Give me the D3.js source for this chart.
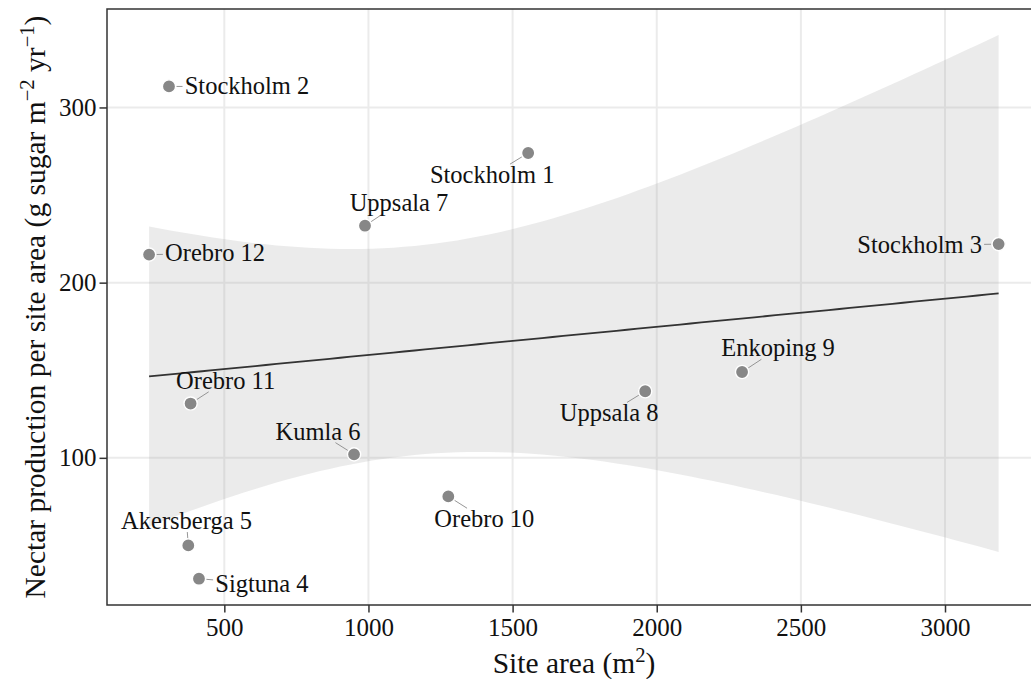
<!DOCTYPE html>
<html>
<head>
<meta charset="utf-8">
<script src="https://cdn.jsdelivr.net/npm/d3@7"></script>
<style>
  html, body { margin: 0; padding: 0; background: #fff; }
  svg { display: block; }
  text { font-family: "Liberation Serif", "DejaVu Serif", serif; fill: #111; }
</style>
</head>
<body>
<svg id="chart" width="1031" height="679"></svg>
<script>
// ---- data ----
const sites = ["Stockholm 1","Stockholm 2","Stockholm 3","Sigtuna 4","Akersberga 5","Kumla 6",
               "Uppsala 7","Uppsala 8","Enkoping 9","Orebro 10","Orebro 11","Orebro 12"];
const siteArea = [1554, 308, 3186, 412, 375, 950, 988, 1960, 2296, 1277, 383, 239];
const nectar   = [274, 312, 222, 31, 50, 102, 232.5, 138, 149, 78, 131, 216];
const xTicks = [500, 1000, 1500, 2000, 2500, 3000];
const yTicks = [100, 200, 300];
const tCrit = 2.228; // qt(0.975, df = 10)

// label layout (pixel offsets from point to label centre / baseline), as placed by the repel
const labelOffsets = {
  "Stockholm 1": [-36, 30], "Stockholm 2": [78, 8], "Stockholm 3": [-79, 9.3],
  "Sigtuna 4": [63, 13], "Akersberga 5": [-1.8, -16.4], "Kumla 6": [-36, -14.7],
  "Uppsala 7": [34, -14.7], "Uppsala 8": [-36, 30], "Enkoping 9": [36, -15.7],
  "Orebro 10": [36, 30.7], "Orebro 11": [35, -14.7], "Orebro 12": [66, 6.7]
};

const data = sites.map((s, i) => ({ site: s, x: siteArea[i], y: nectar[i] }));

// ---- layout ----
const W = 1031, H = 679;
const panel = { left: 107, top: 9, right: 1041, bottom: 605 };
const svg = d3.select("#chart");

const x = d3.scaleLinear().domain([93, 3333]).range([panel.left, panel.right]);
const y = d3.scaleLinear().domain([16, 356.2]).range([panel.bottom, panel.top]);

// ---- linear model + 95% CI (as geom_smooth(method = "lm")) ----
const n = data.length;
const mx = d3.mean(data, d => d.x), my = d3.mean(data, d => d.y);
const sxx = d3.sum(data, d => (d.x - mx) ** 2);
const sxy = d3.sum(data, d => (d.x - mx) * (d.y - my));
const b1 = sxy / sxx, b0 = my - b1 * mx;
const sse = d3.sum(data, d => (d.y - (b0 + b1 * d.x)) ** 2);
const sRes = Math.sqrt(sse / (n - 2));
const [xmin, xmax] = d3.extent(data, d => d.x);
const fitX = d3.range(0, 81).map(k => xmin + (xmax - xmin) * k / 80);
const fit = fitX.map(v => {
  const yh = b0 + b1 * v;
  const se = sRes * Math.sqrt(1 / n + (v - mx) ** 2 / sxx);
  return { x: v, y: yh, lo: yh - tCrit * se, hi: yh + tCrit * se };
});

// ---- panel background & grid ----
const g = svg.append("g");
g.append("rect").attr("x", panel.left).attr("y", panel.top)
  .attr("width", panel.right - panel.left).attr("height", panel.bottom - panel.top)
  .attr("fill", "#fff");

g.append("g").selectAll("line").data(xTicks).join("line")
  .attr("x1", d => x(d)).attr("x2", d => x(d))
  .attr("y1", panel.top).attr("y2", panel.bottom)
  .attr("stroke", "#ebebeb").attr("stroke-width", 2);
g.append("g").selectAll("line").data(yTicks).join("line")
  .attr("y1", d => y(d)).attr("y2", d => y(d))
  .attr("x1", panel.left).attr("x2", panel.right)
  .attr("stroke", "#ebebeb").attr("stroke-width", 2);

// ---- ribbon & fit line ----
g.append("path").datum(fit)
  .attr("d", d3.area().x(d => x(d.x)).y0(d => y(d.lo)).y1(d => y(d.hi)))
  .attr("fill", "#999999").attr("fill-opacity", 0.2);
g.append("path").datum(fit)
  .attr("d", d3.line().x(d => x(d.x)).y(d => y(d.y)))
  .attr("fill", "none").attr("stroke", "#333").attr("stroke-width", 1.8);

// ---- labels (text first measured, segments drawn beneath) ----
const labelFs = 24.5;
const rPt = 6.6;
const segG = g.append("g");
const ptG = g.append("g");
const txtG = g.append("g");

data.forEach(d => {
  const px = x(d.x), py = y(d.y);
  const [dx, dy] = labelOffsets[d.site];
  const t = txtG.append("text")
    .attr("x", px + dx).attr("y", py + dy)
    .attr("text-anchor", "middle")
    .attr("font-size", labelFs)
    .text(d.site);
  const bb = t.node().getBBox();
  const pad = 2.2;
  const bx0 = bb.x - pad, bx1 = bb.x + bb.width + pad;
  const by0 = py + dy - 0.68 * labelFs - pad, by1 = py + dy + 3;
  const cx = (bx0 + bx1) / 2, cy = (by0 + by1) / 2;
  const ddx = cx - px, ddy = cy - py;
  let t0 = 0, t1 = 1;
  const p = [-ddx, ddx, -ddy, ddy], q = [px - bx0, bx1 - px, py - by0, by1 - py];
  for (let k = 0; k < 4; k++) {
    if (p[k] === 0) continue;
    const r = q[k] / p[k];
    if (p[k] < 0) t0 = Math.max(t0, r); else t1 = Math.min(t1, r);
  }
  const len = Math.hypot(ddx, ddy);
  const tStart = (rPt + 0.8) / len;
  if (t0 > tStart) {
    segG.append("line")
      .attr("x1", px + ddx * tStart).attr("y1", py + ddy * tStart)
      .attr("x2", px + ddx * t0).attr("y2", py + ddy * t0)
      .attr("stroke", "#8a8a8a").attr("stroke-width", 0.9);
  }
});

// ---- points ----
ptG.selectAll("circle").data(data).join("circle")
  .attr("cx", d => x(d.x)).attr("cy", d => y(d.y)).attr("r", rPt)
  .attr("fill", "#878787").attr("stroke", "#fff").attr("stroke-width", 1.4);

// ---- panel border ----
g.append("rect").attr("x", panel.left).attr("y", panel.top)
  .attr("width", panel.right - panel.left).attr("height", panel.bottom - panel.top)
  .attr("fill", "none").attr("stroke", "#333").attr("stroke-width", 1.5);

// ---- axes ----
const tickFs = 25;
const xAxis = svg.append("g").attr("transform", `translate(0,${panel.bottom})`)
  .call(d3.axisBottom(x).tickValues(xTicks).tickSize(7.5).tickPadding(6).tickFormat(d3.format("d")));
const yAxis = svg.append("g").attr("transform", `translate(${panel.left},0)`)
  .call(d3.axisLeft(y).tickValues(yTicks).tickSize(7.5).tickPadding(3).tickFormat(d3.format("d")));
[xAxis, yAxis].forEach(a => {
  a.attr("font-size", tickFs).attr("font-family", '"Liberation Serif", serif');
  a.select(".domain").remove();
  a.selectAll(".tick line").attr("stroke", "#333").attr("stroke-width", 1.5);
  a.selectAll(".tick text").attr("font-size", tickFs).attr("fill", "#111")
    .style("font-family", '"Liberation Serif", serif');
});
xAxis.selectAll(".tick text").attr("dy", null).attr("y", 30.5);

// ---- axis titles ----
const titleFs = 29.5;
const xt = svg.append("text")
  .attr("x", (panel.left + panel.right) / 2).attr("y", 673)
  .attr("text-anchor", "middle").attr("font-size", titleFs);
xt.append("tspan").text("Site area (m");
xt.append("tspan").attr("baseline-shift", "super").attr("font-size", titleFs * 0.7).text("2");
xt.append("tspan").text(")");

const yt = svg.append("text")
  .attr("transform", `translate(45,${(panel.top + panel.bottom) / 2}) rotate(-90)`)
  .attr("text-anchor", "middle").attr("font-size", titleFs);
yt.append("tspan").text("Nectar production per site area (g sugar m");
yt.append("tspan").attr("baseline-shift", "super").attr("font-size", titleFs * 0.7).text("\u22122");
yt.append("tspan").text(" yr");
yt.append("tspan").attr("baseline-shift", "super").attr("font-size", titleFs * 0.7).text("\u22121");
yt.append("tspan").text(")");
</script>
</body>
</html>
